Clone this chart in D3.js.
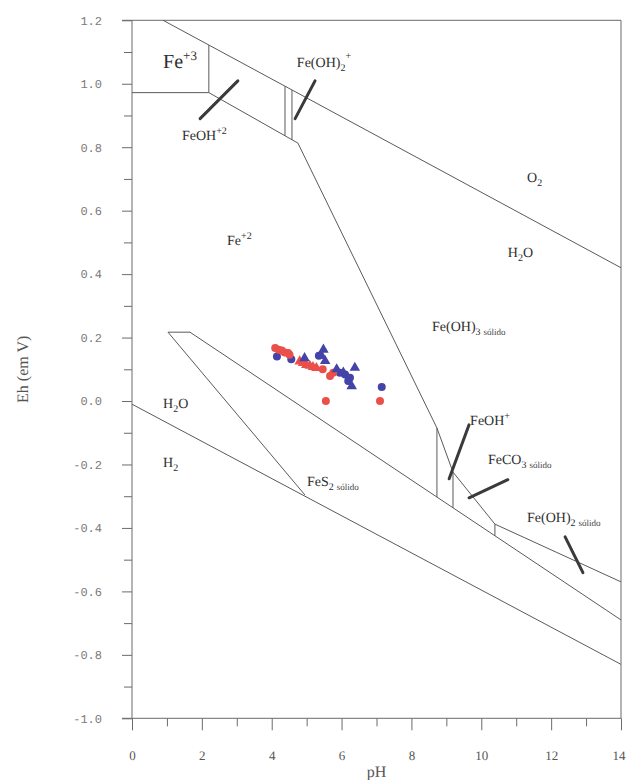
<!DOCTYPE html>
<html>
<head>
<meta charset="utf-8">
<script src="https://cdn.jsdelivr.net/npm/d3@7/dist/d3.min.js"></script>
<style>
  html, body { margin: 0; padding: 0; background: #fff; }
  svg { display: block; -webkit-font-smoothing: antialiased; }
  text { text-rendering: geometricPrecision; }
</style>
</head>
<body>
<svg id="chart" width="626" height="780"></svg>
<script>
// Eh–pH (Pourbaix) diagram for the Fe–S–C–O–H system with field samples.

// Axis ticks
const phTicks = [0, 2, 4, 6, 8, 10, 12, 14];
const phMinor = [1, 3, 5, 7, 9, 11, 13];
const ehTicks = [-1.0, -0.8, -0.6, -0.4, -0.2, 0.0, 0.2, 0.4, 0.6, 0.8, 1.0, 1.2];
const ehMinor = [-0.9, -0.7, -0.5, -0.3, -0.1, 0.1, 0.3, 0.5, 0.7, 0.9, 1.1];

// Stability boundaries, [pH, Eh]
const waterO2 = [[0.89, 1.2], [14, 0.42]];
const waterH2 = [[0, -0.01], [14, -0.83]];
const ferricBox = [[0, 0.972], [2.2, 0.972], [2.2, 1.122]];
const ferrousUpper = [[2.2, 0.972], [4.75, 0.813], [8.73, -0.085], [9.19, -0.224], [10.39, -0.388], [14, -0.570]];
const pyriteUpper = [[4.95, -0.296], [1.03, 0.217], [1.66, 0.217], [14, -0.690]];
// vertical splits (pH) between ferrousUpper and waterO2
const hydroxoSplits = [4.38, 4.58];
// vertical splits (pH) between ferrousUpper and the pyrite ceiling
const ferrousSplits = [8.73, 9.19, 10.39];

// Leader strokes pointing to narrow fields, [[pH, Eh], [pH, Eh]]
const leaders = [
  [[1.95, 0.890], [3.03, 1.009]],
  [[4.67, 0.890], [5.24, 1.009]],
  [[9.08, -0.245], [9.65, -0.075]],
  [[9.65, -0.305], [10.76, -0.248]],
  [[12.40, -0.428], [12.91, -0.541]]
];

// Field labels: main text, subscript, superscript, small qualifier; anchor [pH, Eh]
const fieldText = [
  { t: "Fe", sup: "+3", at: [0.89, 1.050], big: true },
  { t: "FeOH", sup: "+2", at: [1.43, 0.823] },
  { t: "Fe(OH)", sub: "2", sup: "+", at: [4.72, 1.054] },
  { t: "O", sub: "2", at: [11.31, 0.691] },
  { t: "H", sub: "2", t2: "O", at: [10.76, 0.455] },
  { t: "Fe", sup: "+2", at: [2.72, 0.493] },
  { t: "Fe(OH)", sub: "3", q: "sólido", at: [8.59, 0.222] },
  { t: "H", sub: "2", t2: "O", at: [0.89, -0.021] },
  { t: "H", sub: "2", at: [0.89, -0.207] },
  { t: "FeS", sub: "2", q: "sólido", at: [5.01, -0.267] },
  { t: "FeOH", sup: "+", at: [9.68, -0.075] },
  { t: "FeCO", sub: "3", q: "sólido", at: [10.19, -0.198] },
  { t: "Fe(OH)", sub: "2", q: "sólido", at: [11.31, -0.380] }
];

// Sample points
const redCircPH = [4.10, 4.20, 4.29, 4.37, 4.47, 4.51, 5.46, 5.67, 5.76, 5.55, 7.10];
const redCircEh = [0.167, 0.162, 0.159, 0.153, 0.151, 0.146, 0.100, 0.079, 0.089, 0.000, 0.000];
const redTriPH = [4.80, 4.90, 4.99, 5.09, 5.18, 5.28];
const redTriEh = [0.125, 0.120, 0.114, 0.111, 0.107, 0.104];
const blueCircPH = [4.15, 4.56, 5.35, 5.95, 6.10, 6.24, 6.19, 7.15];
const blueCircEh = [0.140, 0.132, 0.143, 0.089, 0.084, 0.073, 0.063, 0.044];
const blueTriPH = [4.94, 5.48, 5.43, 5.53, 5.86, 6.05, 6.38, 6.29];
const blueTriEh = [0.135, 0.162, 0.142, 0.126, 0.100, 0.090, 0.105, 0.047];

const svg = d3.select("#chart");
const x = d3.scaleLinear().domain([0, 14]).range([132, 621]);
const y = d3.scaleLinear().domain([-1.0, 1.2]).range([718.3, 20.3]);

const axisColor = "#6b6b6b";
const lineColor = "#5a5a5a";
const textColor = "#2e2e2e";
const serif = "'Liberation Serif', 'DejaVu Serif', serif";

// Eh on a polyline at given pH
function ehAt(poly, ph) {
  for (let i = 0; i < poly.length - 1; i++) {
    const a = poly[i], b = poly[i + 1];
    const lo = Math.min(a[0], b[0]), hi = Math.max(a[0], b[0]);
    if (ph >= lo && ph <= hi && a[0] !== b[0]) {
      return a[1] + (b[1] - a[1]) * (ph - a[0]) / (b[0] - a[0]);
    }
  }
  return null;
}

// ---- axes ----
const left = svg.append("g").attr("transform", `translate(${x(0)},0)`)
  .call(d3.axisLeft(y).tickValues(ehTicks).tickSize(10).tickPadding(20)
    .tickFormat(d => d.toFixed(1)));
left.select(".domain").remove();
left.selectAll(".tick line").attr("stroke", axisColor);
left.selectAll(".tick text")
  .attr("fill", "#7a7a7a")
  .style("font-family", "'Liberation Mono', 'DejaVu Sans Mono', monospace")
  .style("font-size", "12px");

const leftMinor = svg.append("g").attr("transform", `translate(${x(0)},0)`)
  .call(d3.axisLeft(y).tickValues(ehMinor).tickSize(8).tickFormat(""));
leftMinor.select(".domain").remove();
leftMinor.selectAll(".tick line").attr("stroke", axisColor);

const bottom = svg.append("g").attr("transform", `translate(0,${y(-1.0)})`)
  .call(d3.axisBottom(x).tickValues(phTicks).tickSize(12).tickPadding(20)
    .tickFormat(d3.format("d")));
bottom.select(".domain").remove();
bottom.selectAll(".tick line").attr("stroke", axisColor);
bottom.selectAll(".tick text")
  .attr("fill", "#555")
  .style("font-family", serif)
  .style("font-size", "13px")
  .filter(d => d === 14).attr("text-anchor", "end").attr("dx", 4);

const bottomMinor = svg.append("g").attr("transform", `translate(0,${y(-1.0)})`)
  .call(d3.axisBottom(x).tickValues(phMinor).tickSize(8).tickFormat(""));
bottomMinor.select(".domain").remove();
bottomMinor.selectAll(".tick line").attr("stroke", axisColor);

// frame
const frame = svg.append("g").attr("stroke", axisColor).attr("fill", "none").attr("stroke-width", 1);
frame.append("line").attr("x1", x(0) - 10).attr("x2", x(14)).attr("y1", y(1.2)).attr("y2", y(1.2));
frame.append("line").attr("x1", x(0) - 10).attr("x2", x(14)).attr("y1", y(-1.0)).attr("y2", y(-1.0));
frame.append("line").attr("x1", x(0)).attr("x2", x(0)).attr("y1", y(1.2)).attr("y2", y(-1.0));
frame.append("line").attr("x1", x(14)).attr("x2", x(14)).attr("y1", y(1.2)).attr("y2", y(-1.0));

// axis titles
svg.append("text")
  .attr("transform", `translate(28,${y(0.1)}) rotate(-90)`)
  .attr("text-anchor", "middle")
  .attr("fill", "#555")
  .style("font-family", serif).style("font-size", "16px")
  .text("Eh (em V)");
svg.append("text")
  .attr("x", x(7)).attr("y", 777)
  .attr("text-anchor", "middle")
  .attr("fill", "#555")
  .style("font-family", serif).style("font-size", "16px")
  .text("pH");

// ---- field boundaries ----
const line = d3.line().x(d => x(d[0])).y(d => y(d[1]));
const pyriteCeiling = pyriteUpper.slice(2);
const bounds = svg.append("g").attr("fill", "none").attr("stroke", lineColor).attr("stroke-width", 1);
[waterO2, waterH2, ferricBox, ferrousUpper, pyriteUpper].forEach(p =>
  bounds.append("path").attr("d", line(p)));
hydroxoSplits.forEach(ph =>
  bounds.append("path").attr("d", line([[ph, ehAt(waterO2, ph)], [ph, ehAt(ferrousUpper, ph)]])));
ferrousSplits.forEach(ph =>
  bounds.append("path").attr("d", line([[ph, ehAt(ferrousUpper, ph)], [ph, ehAt(pyriteCeiling, ph)]])));

// leader strokes
svg.append("g").attr("stroke", "#3a3a3a").attr("stroke-width", 3).attr("stroke-linecap", "round")
  .selectAll("path").data(leaders).join("path").attr("d", d => line(d));

// ---- field labels ----
const labels = svg.append("g").style("font-family", serif);
fieldText.forEach(f => {
  const fs = f.big ? 20 : 14;
  const txt = labels.append("text")
    .attr("x", x(f.at[0])).attr("y", y(f.at[1]))
    .attr("fill", textColor)
    .style("font-size", fs + "px");
  txt.append("tspan").attr("fill", textColor).text(f.t);
  if (f.sub) {
    txt.append("tspan").attr("dy", 4).attr("fill", textColor).style("font-size", "10px").text(f.sub);
    if (f.sup) {
      txt.append("tspan").attr("dy", -12).attr("fill", textColor).style("font-size", "10px").text(f.sup);
    } else if (f.t2) {
      txt.append("tspan").attr("dy", -4).attr("fill", textColor).text(f.t2);
    } else if (f.q) {
      txt.append("tspan").attr("dx", 3).attr("fill", "#444").style("font-size", "9px").text(f.q);
    }
  } else if (f.sup) {
    txt.append("tspan").attr("dy", f.big ? -8 : -6).attr("fill", textColor)
      .style("font-size", f.big ? "13px" : "10px").text(f.sup);
  }
});

// ---- samples ----
const red = "#ea5049", blue = "#4343a8";
const pts = svg.append("g");
const tri = d3.symbol().type(d3.symbolTriangle).size(48);
pts.selectAll(".bc").data(d3.zip(blueCircPH, blueCircEh)).join("circle")
  .attr("cx", d => x(d[0])).attr("cy", d => y(d[1])).attr("r", 4).attr("fill", blue);
pts.selectAll(".rc").data(d3.zip(redCircPH, redCircEh)).join("circle")
  .attr("cx", d => x(d[0])).attr("cy", d => y(d[1])).attr("r", 4).attr("fill", red);
pts.selectAll(".rt").data(d3.zip(redTriPH, redTriEh)).join("path")
  .attr("d", tri).attr("transform", d => `translate(${x(d[0])},${y(d[1])})`).attr("fill", red);
pts.selectAll(".bt").data(d3.zip(blueTriPH, blueTriEh)).join("path")
  .attr("d", tri).attr("transform", d => `translate(${x(d[0])},${y(d[1])})`).attr("fill", blue);
</script>
</body>
</html>
